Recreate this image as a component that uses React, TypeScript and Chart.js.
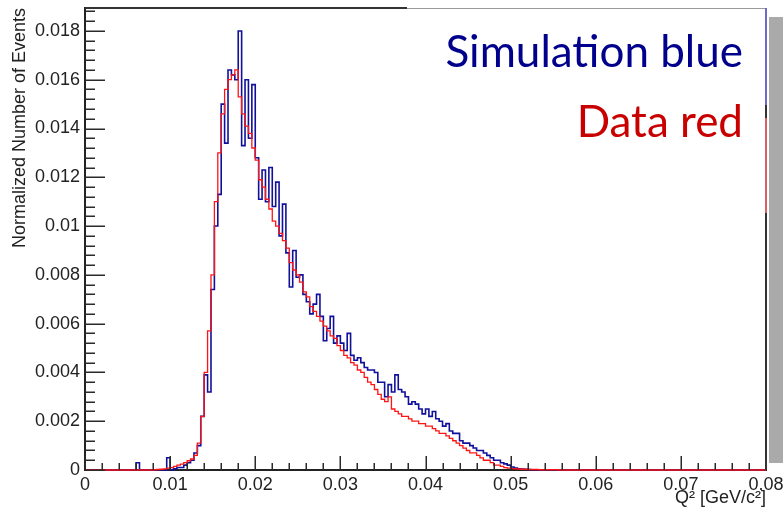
import { useEffect, useRef } from 'react';
import { Chart, registerables } from 'chart.js';

Chart.register(...registerables);

// Histogram binning (0 .. 0.08 GeV^2, 200 bins)
const BIN_WIDTH = 0.0004;
const N_BINS = 200;
const FIRST_BIN = 14; // first bin stored in the arrays below (q = 0.0056)

// Simulation (blue) bin contents, starting at FIRST_BIN
const simulationBlue = [
  0, 0.0003, 0, 0, 0, 0, 0, 0, 0, 0,
  0.0005, 0, 0.00005, 0.0001, 0.0001, 0.0002, 0.0003, 0.0004, 0.0007, 0.001,
  0.0022, 0.0039, 0.0032, 0.0074, 0.01, 0.0113, 0.015, 0.0134, 0.0164, 0.0162,
  0.016, 0.018, 0.0133, 0.016, 0.0136, 0.0158, 0.0128, 0.0111, 0.0123, 0.011,
  0.0124, 0.0108, 0.0118, 0.0096, 0.0109, 0.0089, 0.0075, 0.009, 0.0079, 0.008,
  0.0072, 0.0069, 0.0064, 0.0068, 0.0072, 0.0063, 0.0053, 0.0058, 0.0063, 0.0052,
  0.0055, 0.0052, 0.0049, 0.0056, 0.0047, 0.0045, 0.0046, 0.0044, 0.0042, 0.0041,
  0.0041, 0.004, 0.0036, 0.0036, 0.003, 0.0035, 0.0032, 0.0039, 0.0033, 0.0032,
  0.003, 0.0027, 0.0028, 0.0027, 0.0025, 0.0023, 0.0025, 0.0022, 0.0024, 0.0021,
  0.002, 0.0018, 0.0019, 0.0016, 0.0015, 0.0015, 0.0012, 0.0011, 0.0011, 0.001,
  0.0009, 0.0008, 0.0008, 0.0007, 0.0006, 0.0005, 0.0004, 0.0004, 0.0003, 0.00025,
  0.0002, 0.00012, 0.00008, 0.00005, 0.00004, 0.00003, 0.00002, 0.00001, 0.00001, 0,
  0.00001, 0, 0, 0, 0, 0, 0,
];

// Data (red) bin contents, starting at FIRST_BIN
const dataRed = [
  0, 0, 0, 0, 0, 0, 0.00001, 0.00002, 0.00003, 0.00005,
  0.00008, 0.0001, 0.00015, 0.0002, 0.00024, 0.0003, 0.00038, 0.00045, 0.0006, 0.0011,
  0.0022, 0.004, 0.0057, 0.008, 0.011, 0.013, 0.0146, 0.0156, 0.016, 0.0162,
  0.0164, 0.0153, 0.0146, 0.0141, 0.0138, 0.0132, 0.0127, 0.0119, 0.0116, 0.0111,
  0.0107, 0.0102, 0.01, 0.0097, 0.0094, 0.0091, 0.0085, 0.0082, 0.008, 0.0077,
  0.0073, 0.0071, 0.0067, 0.0065, 0.0063, 0.0061, 0.0059, 0.0057, 0.0055, 0.0054,
  0.0051, 0.0049, 0.0047, 0.0046, 0.0044, 0.0043, 0.0041, 0.004, 0.0038, 0.0036,
  0.0035, 0.0033, 0.0031, 0.0029, 0.0028, 0.003, 0.0025, 0.0024, 0.0023, 0.0022,
  0.0022, 0.0021, 0.002, 0.002, 0.0019, 0.0019, 0.0018, 0.0018, 0.0017, 0.0016,
  0.0015, 0.0015, 0.0014, 0.0013, 0.0012, 0.0011, 0.001, 0.0009, 0.0008, 0.0007,
  0.0007, 0.0006, 0.0005, 0.0004, 0.0004, 0.0003, 0.0002, 0.0002, 0.00015, 0.0001,
  0.00008, 0.00006, 0.00005, 0.00004, 0.00003, 0.00003, 0.00002, 0.00002, 0.00002, 0.00001,
  0.00001, 0.00001, 0.00001, 0.00001, 0.00001, 0, 0,
];

const xTickValues = [0, 0.01, 0.02, 0.03, 0.04, 0.05, 0.06, 0.07, 0.08];
const yTickValues = [0, 0.002, 0.004, 0.006, 0.008, 0.01, 0.012, 0.014, 0.016, 0.018];
const X_MAX = 0.08;
const Y_MAX = 0.01894;

const legendLines = [
  { text: 'Simulation blue', color: '#00008c' },
  { text: 'Data red', color: '#c80000' },
];

function histogramPoints(values: number[]) {
  const pts: { x: number; y: number }[] = [];
  for (let i = 0; i < N_BINS; i++) {
    const k = i - FIRST_BIN;
    const v = k >= 0 && k < values.length ? values[k] : 0;
    pts.push({ x: i * BIN_WIDTH, y: v });
  }
  pts.push({ x: N_BINS * BIN_WIDTH, y: 0 });
  return pts;
}

const fmt = (v: any) => String(parseFloat(Number(v).toFixed(4)));
const AXIS_FONT = 'Liberation Sans, Arial, sans-serif';

const rootFrame = {
  id: 'rootFrame',
  afterDraw(chart: any) {
    const { ctx, chartArea: a, scales } = chart;
    const x = scales.x;
    const y = scales.y;
    ctx.save();
    // inward tick marks
    ctx.strokeStyle = '#2a2a2a';
    ctx.lineWidth = 1.5;
    ctx.beginPath();
    for (let k = 0; k * 0.0004 <= Y_MAX + 1e-9; k++) {
      const py = Math.round(y.getPixelForValue(k * 0.0004)) + 0.25;
      const len = k % 5 === 0 ? 20 : 10;
      ctx.moveTo(a.left, py);
      ctx.lineTo(a.left + len, py);
    }
    for (let k = 0; k * 0.002 <= X_MAX + 1e-9; k++) {
      const px = Math.round(x.getPixelForValue(k * 0.002)) + 0.25;
      const len = k % 5 === 0 ? 14 : 7;
      ctx.moveTo(px, a.bottom);
      ctx.lineTo(px, a.bottom - len);
    }
    ctx.stroke();

    // annotation box (white) covering top-right part of frame
    const boxLeft = 407;
    ctx.fillStyle = '#ffffff';
    ctx.fillRect(boxLeft, 0, a.right - boxLeft - 1, 150);
    // frame top
    ctx.lineWidth = 2;
    ctx.strokeStyle = '#333333';
    ctx.beginPath();
    ctx.moveTo(a.left, a.top);
    ctx.lineTo(boxLeft, a.top);
    ctx.stroke();
    ctx.lineWidth = 1;
    ctx.strokeStyle = '#9a9a9a';
    ctx.beginPath();
    ctx.moveTo(boxLeft, a.top + 0.5);
    ctx.lineTo(a.right, a.top + 0.5);
    ctx.stroke();
    // frame right with coloured segments
    const segs = [
      [a.top, 105, '#6c6cc8'],
      [105, 118, '#333333'],
      [118, 213, '#d86060'],
      [213, a.bottom, '#333333'],
    ];
    ctx.lineWidth = 2;
    for (const [s, e, c] of segs as any) {
      ctx.strokeStyle = c;
      ctx.beginPath();
      ctx.moveTo(a.right, s);
      ctx.lineTo(a.right, e);
      ctx.stroke();
    }
    // grey shadow bar on the right
    ctx.fillStyle = '#aaaaaa';
    ctx.fillRect(a.right + 3, 17, chart.width - a.right - 3, 446);

    // annotation text
    ctx.font = '44px Lato, "Open Sans", sans-serif';
    ctx.textAlign = 'right';
    ctx.textBaseline = 'alphabetic';
    ctx.fillStyle = legendLines[0].color;
    ctx.fillText(legendLines[0].text, 743, 67);
    ctx.fillStyle = legendLines[1].color;
    ctx.fillText(legendLines[1].text, 743, 137);
    ctx.restore();
  },
};

export default function App() {
  const canvasRef = useRef<HTMLCanvasElement>(null);

  useEffect(() => {
    if (!canvasRef.current) return;
    const chart = new Chart(canvasRef.current, {
      type: 'line',
      data: {
        datasets: [
          {
            label: 'Data red',
            data: histogramPoints(dataRed),
            borderColor: '#ff1414',
            borderWidth: 1.3,
            stepped: true,
            pointRadius: 0,
            fill: false,
            clip: 4,
          },
          {
            label: 'Simulation blue',
            data: histogramPoints(simulationBlue),
            borderColor: '#10109a',
            borderWidth: 1.6,
            stepped: true,
            pointRadius: 0,
            fill: false,
            clip: 4,
          },
        ],
      },
      options: {
        animation: false,
        responsive: true,
        maintainAspectRatio: false,
        layout: { padding: { top: 8, right: 17, left: 0, bottom: 0 } },
        plugins: { legend: { display: false }, tooltip: { enabled: false } },
        scales: {
          x: {
            type: 'linear',
            min: 0,
            max: X_MAX,
            grid: { display: false, drawTicks: false },
            border: { display: true, color: '#222222', width: 2 },
            ticks: {
              padding: 4,
              color: '#222222',
              font: { family: AXIS_FONT, size: 18 },
              maxRotation: 0,
              autoSkip: false,
              callback: fmt,
            },
            title: {
              display: true,
              text: 'Q² [GeV/c²]',
              align: 'end',
              color: '#222222',
              font: { family: AXIS_FONT, size: 18 },
              padding: { top: 0, bottom: 6 },
            },
            afterBuildTicks: (s: any) => {
              s.ticks = xTickValues.map((v) => ({ value: v }));
            },
            afterFit: (s: any) => {
              s.height = 45;
              s.paddingLeft = 0;
              s.paddingRight = 0;
            },
          },
          y: {
            type: 'linear',
            min: 0,
            max: Y_MAX,
            grid: { display: false, drawTicks: false },
            border: { display: true, color: '#222222', width: 2 },
            ticks: {
              padding: 5,
              color: '#222222',
              font: { family: AXIS_FONT, size: 18 },
              autoSkip: false,
              callback: fmt,
            },
            title: {
              display: true,
              text: 'Normalized Number of Events',
              align: 'end',
              color: '#222222',
              font: { family: AXIS_FONT, size: 18 },
              padding: { top: 9, bottom: 0 },
            },
            afterBuildTicks: (s: any) => {
              s.ticks = yTickValues.map((v) => ({ value: v }));
            },
            afterFit: (s: any) => {
              s.width = 85;
              s.paddingTop = 0;
              s.paddingBottom = 0;
            },
          },
        },
      },
      plugins: [rootFrame],
    });
    return () => chart.destroy();
  }, []);

  return (
    <div style={{ position: 'fixed', left: 0, top: 0, width: 783, height: 515, background: '#ffffff' }}>
      <canvas ref={canvasRef} />
    </div>
  );
}
